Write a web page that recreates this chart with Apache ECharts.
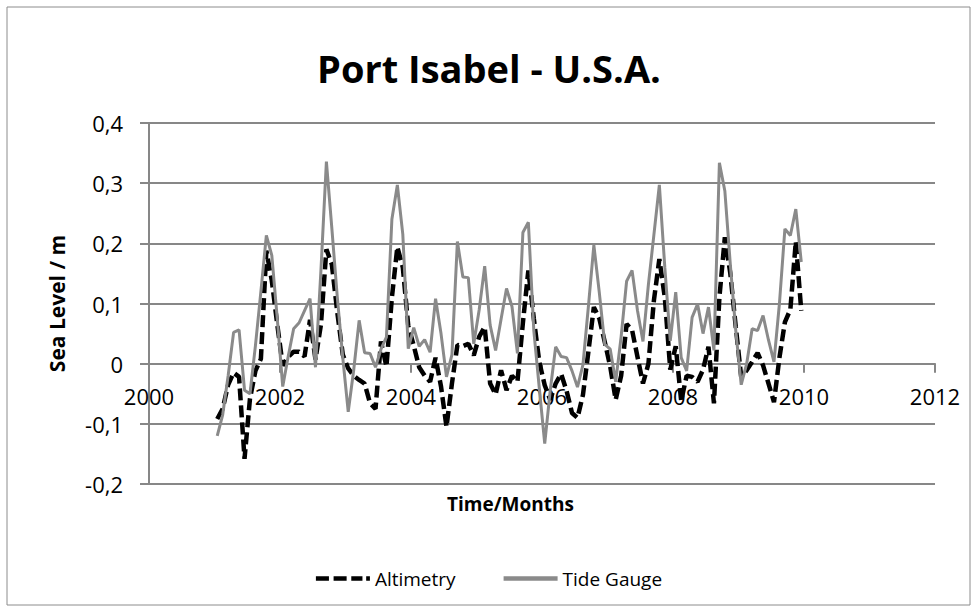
<!DOCTYPE html>
<html>
<head>
<meta charset="utf-8">
<title>Port Isabel - U.S.A.</title>
<script src="https://cdn.jsdelivr.net/npm/echarts@6/dist/echarts.min.js"></script>
<style>
  html, body { margin: 0; padding: 0; background: #fff; }
  #chart { width: 978px; height: 612px; }
</style>
</head>
<body>
<div id="chart"></div>
<script>
// monthly sea level (m), Jan 2001 .. Dec 2009
const startYear = 2001
const altimetry = [
  -0.092, -0.075, -0.035, -0.015, -0.022, -0.158, -0.058, -0.012, 0.008, 0.188, 0.138, 0.065,
  -0.003, 0.011, 0.02, 0.02, 0.012, 0.073, 0.007, 0.065, 0.19, 0.165, 0.085, 0.015,
  -0.008, -0.02, -0.027, -0.033, -0.066, -0.075, 0.037, -0.005, 0.11, 0.194, 0.16, 0.063,
  0.03, -0.006, -0.02, -0.03, 0.01, -0.038, -0.105, -0.033, 0.031, 0.029, 0.033, 0.014,
  0.045, 0.061, -0.033, -0.051, -0.011, -0.044, -0.02, -0.03, 0.068, 0.155, 0.075, 0.003,
  -0.036, -0.06, -0.033, -0.017, -0.045, -0.082, -0.09, -0.052, 0.02, 0.094, 0.075, 0.036,
  -0.005, -0.06, -0.02, 0.066, 0.056, 0.011, -0.033, 0.0, 0.105, 0.174, 0.11, -0.01,
  0.029, -0.062, -0.02, -0.022, -0.03, -0.01, 0.028, -0.066, 0.11, 0.21, 0.15, 0.061,
  -0.022, -0.011, 0.003, 0.018, -0.003, -0.033, -0.064, 0.01, 0.069, 0.09, 0.203, 0.088
]
const tideGauge = [
  -0.12, -0.085, -0.02, 0.052, 0.056, -0.044, -0.05, 0.03, 0.12, 0.213, 0.18, 0.075,
  -0.038, 0.012, 0.058, 0.068, 0.088, 0.108, -0.006, 0.155, 0.336, 0.225, 0.11, 0.01,
  -0.08, -0.011, 0.072, 0.018, 0.017, -0.006, 0.024, 0.044, 0.24, 0.297, 0.215, 0.025,
  0.06, 0.029, 0.04, 0.019, 0.108, 0.05, -0.022, 0.015, 0.203, 0.144, 0.143, 0.033,
  0.09, 0.162, 0.064, 0.022, 0.074, 0.125, 0.095, 0.017, 0.218, 0.235, 0.055, -0.04,
  -0.133, -0.045, 0.028, 0.012, 0.01, -0.012, -0.039, -0.002, 0.095, 0.197, 0.118, 0.032,
  0.024, -0.03, 0.045, 0.137, 0.155, 0.088, 0.037, 0.132, 0.214, 0.297, 0.16, 0.038,
  0.119, 0.01, -0.012, 0.077, 0.099, 0.05, 0.094, 0.022, 0.334, 0.287, 0.165, 0.055,
  -0.035, 0.0, 0.058, 0.055, 0.08, 0.039, 0.003, 0.1, 0.224, 0.213, 0.257, 0.169
]
const xTicks = [2000, 2002, 2004, 2006, 2008, 2010, 2012]
const yTicks = [-0.2, -0.1, 0, 0.1, 0.2, 0.3, 0.4]

const gridGray = '#878787'
const font = 'Open Sans, sans-serif'

// plot box (px)
const plot = { left: 149, top: 123, width: 786, height: 361 }
// x axis crosses the y axis at 0: shift it up from the plot bottom
const yMin = yTicks[0]
const yMax = yTicks[yTicks.length - 1]
const xAxisShift = plot.height * (0 - yMin) / (yMax - yMin)

// month index -> decimal year (middle of the month)
const monthPos = (i) => startYear + (i + 0.5) / 12
const toPairs = (arr) => arr.map((v, i) => [monthPos(i), v])

const fmtY = (v) => {
  if (Math.abs(v) < 1e-9) return '0'
  return v.toFixed(1).replace('.', ',')
}

// legend samples: dashed black bar, solid grey bar
const dashIcon = 'path://M0,0h14v5h-14z M19,0h14v5h-14z M38,0h12v5h-12z M54,0h4v5h-4z'
const solidIcon = 'path://M0,0h58v5h-58z'

const chart = echarts.init(document.getElementById('chart'), null, { renderer: 'svg' })

chart.setOption({
  animation: false,
  backgroundColor: '#fff',
  title: {
    text: 'Port Isabel - U.S.A.',
    left: 'center',
    top: 44,
    textStyle: { fontFamily: font, fontSize: 38, fontWeight: 'bold', color: '#000' }
  },
  legend: {
    data: [
      { name: 'Altimetry', icon: dashIcon },
      { name: 'Tide Gauge', icon: solidIcon }
    ],
    left: 'center',
    top: 564,
    itemWidth: 54,
    itemHeight: 5,
    itemGap: 48,
    textStyle: { fontFamily: font, fontSize: 19, color: '#000' }
  },
  grid: { left: plot.left, top: plot.top, width: plot.width, height: plot.height },
  xAxis: {
    type: 'value',
    min: xTicks[0],
    max: xTicks[xTicks.length - 1],
    interval: 2,
    offset: -xAxisShift,
    axisLine: { onZero: false, lineStyle: { color: gridGray, width: 2 } },
    axisTick: { show: true, length: 9, lineStyle: { color: gridGray, width: 2 } },
    axisLabel: { formatter: (v) => String(v), fontFamily: font, fontSize: 22, color: '#000', margin: 21 },
    splitLine: { show: false }
  },
  yAxis: {
    type: 'value',
    min: yMin,
    max: yMax,
    interval: 0.1,
    name: 'Sea Level / m',
    nameLocation: 'middle',
    nameGap: 82,
    nameRotate: 90,
    nameTextStyle: { fontFamily: font, fontSize: 21, fontWeight: 'bold', color: '#000' },
    axisLine: { show: true, lineStyle: { color: gridGray, width: 2 } },
    axisTick: { show: true, length: 9, lineStyle: { color: gridGray, width: 2 } },
    axisLabel: { formatter: fmtY, fontFamily: font, fontSize: 22, color: '#000', margin: 26 },
    splitLine: { show: true, lineStyle: { color: gridGray, width: 2 } }
  },
  graphic: [
    {
      type: 'rect',
      shape: { x: 7, y: 7, width: 963, height: 598 },
      style: { fill: 'none', stroke: '#8c8c8c', lineWidth: 1 },
      silent: true
    },
    {
      type: 'text',
      left: 447,
      top: 494,
      style: { text: 'Time/Months', fontFamily: font, fontSize: 19, fontWeight: 'bold', fill: '#000' }
    }
  ],
  series: [
    {
      name: 'Altimetry',
      type: 'line',
      data: toPairs(altimetry),
      showSymbol: false,
      symbol: 'none',
      itemStyle: { color: '#000' },
      lineStyle: { color: '#000', width: 4.5, type: [12, 5] }
    },
    {
      name: 'Tide Gauge',
      type: 'line',
      data: toPairs(tideGauge),
      showSymbol: false,
      symbol: 'none',
      itemStyle: { color: '#8a8a8a' },
      lineStyle: { color: '#8a8a8a', width: 3 }
    }
  ]
})
</script>
</body>
</html>
